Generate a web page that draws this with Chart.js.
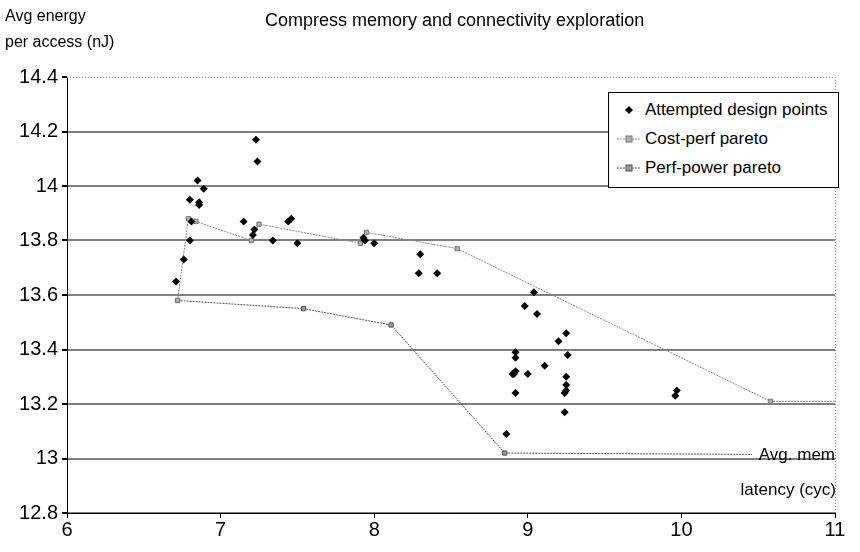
<!DOCTYPE html>
<html>
<head>
<meta charset="utf-8">
<script src="https://cdn.jsdelivr.net/npm/chart.js@4.4.1/dist/chart.umd.min.js"></script>
<style>
  body { margin: 0; background: #fff; font-family: "Liberation Sans", Arial, sans-serif; }
  #wrap { position: relative; width: 860px; height: 552px; }
  #myChart { position: absolute; left: 0; top: 0; }
  .txt { position: absolute; color: #000; white-space: nowrap; line-height: 1; }
  #legend { position: absolute; left: 608px; top: 92px; width: 229px; height: 94px;
            border: 1px solid #000; background: #fff; }
  .item { position: absolute; left: 0; height: 20px; font-size: 17px; line-height: 20px; }
  .item svg { position: absolute; left: 8px; top: 2px; }
  .item span { position: absolute; left: 36px; top: 0; white-space: nowrap; }
</style>
</head>
<body>
<div id="wrap">
  <canvas id="myChart" width="860" height="552"></canvas>
  <div class="txt" style="left:5px; top:8px; font-size:16px;">Avg energy</div>
  <div class="txt" style="left:5px; top:34px; font-size:16px;">per access (nJ)</div>
  <div class="txt" style="left:265px; top:11px; font-size:18px;">Compress memory and connectivity exploration</div>
  <div class="txt" style="right:25px; top:446px; font-size:17px;">Avg. mem</div>
  <div class="txt" style="right:24px; top:481px; font-size:17px;">latency (cyc)</div>
  <div id="legend"></div>
</div>
<script>
// puntos de diseño probados (latencia media, energia media)
const attemptedX = [7.23, 7.24, 6.85, 6.89, 6.80, 6.86, 6.86, 6.81, 7.15, 7.22, 7.21, 6.80, 7.34, 6.76, 6.71,
                    7.44, 7.46, 7.50, 7.93, 7.94, 8.00, 8.30, 8.29, 8.41, 9.04, 8.98, 9.06, 9.25, 9.20,
                    8.92, 8.92, 9.26, 9.11, 8.90, 8.92, 8.91, 9.00, 9.25, 9.25, 9.25, 9.24, 8.92, 9.24,
                    8.86, 9.96, 9.97];
const attemptedY = [14.17, 14.09, 14.02, 13.99, 13.95, 13.94, 13.93, 13.87, 13.87, 13.84, 13.82, 13.80, 13.80, 13.73, 13.65,
                    13.87, 13.88, 13.79, 13.81, 13.80, 13.79, 13.75, 13.68, 13.68, 13.61, 13.56, 13.53, 13.46, 13.43,
                    13.39, 13.37, 13.38, 13.34, 13.31, 13.32, 13.31, 13.31, 13.30, 13.27, 13.25, 13.24, 13.24, 13.17,
                    13.09, 13.23, 13.25];

const costPerfX = [6.72, 6.79, 6.84, 7.20, 7.25, 7.91, 7.95, 8.54, 10.58, 11.0];
const costPerfY = [13.58, 13.88, 13.87, 13.80, 13.86, 13.79, 13.83, 13.77, 13.21, 13.21];

const perfPowerX = [6.72, 7.54, 8.11, 8.85, 10.46];
const perfPowerY = [13.58, 13.55, 13.49, 13.02, 13.015];

const seriesNames = ['Attempted design points', 'Cost-perf pareto', 'Perf-power pareto'];
const xTickValues = [6, 7, 8, 9, 10, 11];
const yTickValues = [12.8, 13, 13.2, 13.4, 13.6, 13.8, 14, 14.2, 14.4];

function puntos(xs, ys) {
    return xs.map((x, i) => ({ x: x, y: ys[i] }));
}

// el ultimo punto de cada frontera va sin marcador
function sinUltimo(r) {
    return function(ctx) {
        return ctx.dataIndex === ctx.dataset.data.length - 1 ? 0 : r;
    };
}

const bordePunteado = {
    id: 'bordePunteado',
    beforeDatasetsDraw(chart) {
        const a = chart.chartArea;
        const c = chart.ctx;
        c.save();
        c.strokeStyle = '#888';
        c.lineWidth = 1;
        c.setLineDash([1, 2]);
        c.beginPath();
        c.moveTo(a.left, a.top + 0.5);
        c.lineTo(a.right + 0.5, a.top + 0.5);
        c.lineTo(a.right + 0.5, a.bottom);
        c.stroke();
        c.restore();
    }
};

const ctx = document.getElementById('myChart').getContext('2d');
const grafico = new Chart(ctx, {
    type: 'scatter',
    data: {
        datasets: [{
            label: seriesNames[0],
            data: puntos(attemptedX, attemptedY),
            pointStyle: 'rectRot',
            pointRadius: 4,
            backgroundColor: '#000',
            borderColor: '#000',
            borderWidth: 0,
            showLine: false
        }, {
            label: seriesNames[1],
            data: puntos(costPerfX, costPerfY),
            showLine: true,
            borderColor: '#8a8a8a',
            borderWidth: 1,
            borderDash: [2, 1],
            pointStyle: 'rect',
            pointRadius: sinUltimo(3),
            pointBackgroundColor: '#b0b0b0',
            pointBorderColor: '#777',
            pointBorderWidth: 1
        }, {
            label: seriesNames[2],
            data: puntos(perfPowerX, perfPowerY),
            showLine: true,
            borderColor: '#555',
            borderWidth: 1,
            borderDash: [2, 1],
            pointStyle: 'rect',
            pointRadius: sinUltimo(3),
            pointBackgroundColor: '#999',
            pointBorderColor: '#555',
            pointBorderWidth: 1
        }]
    },
    options: {
        responsive: false,
        animation: false,
        layout: { padding: { top: 77, right: 25, left: 0, bottom: 0 } },
        plugins: {
            legend: { display: false },
            tooltip: { enabled: false }
        },
        scales: {
            x: {
                type: 'linear',
                min: 6,
                max: 11,
                afterBuildTicks: s => { s.ticks = xTickValues.map(v => ({ value: v })); },
                afterFit: s => { s.height = 39; },
                ticks: {
                    color: '#000',
                    font: { family: 'Liberation Sans', size: 20 },
                    padding: 0,
                    callback: v => String(v)
                },
                grid: { drawOnChartArea: false, drawTicks: true, tickLength: 5, tickColor: '#000' },
                border: { color: '#000', width: 1 }
            },
            y: {
                min: 12.8,
                max: 14.4,
                afterBuildTicks: s => { s.ticks = yTickValues.map(v => ({ value: v })); },
                afterFit: s => { s.width = 67; },
                ticks: {
                    color: '#000',
                    font: { family: 'Liberation Sans', size: 20 },
                    padding: 4,
                    callback: v => String(Math.round(v * 10) / 10)
                },
                grid: {
                    color: c => (c.tick && c.tick.value >= 14.4) ? 'rgba(0,0,0,0)' : '#808080',
                    lineWidth: 2,
                    drawTicks: true,
                    tickLength: 5,
                    tickColor: '#000'
                },
                border: { color: '#000', width: 1 }
            }
        }
    },
    plugins: [bordePunteado]
});

// leyenda en html dentro del area del grafico
function cargarLeyenda() {
    const iconos = [
        '<svg width="24" height="16"><polygon points="12,4 16,8 12,12 8,8" fill="#000"/></svg>',
        '<svg width="24" height="16"><line x1="0" y1="8" x2="24" y2="8" stroke="#8a8a8a" stroke-dasharray="2,1"/><rect x="9" y="5" width="6" height="6" fill="#b0b0b0" stroke="#777"/></svg>',
        '<svg width="24" height="16"><line x1="0" y1="8" x2="24" y2="8" stroke="#555" stroke-dasharray="2,1"/><rect x="9" y="5" width="6" height="6" fill="#999" stroke="#555"/></svg>'
    ];
    const cont = document.getElementById('legend');
    grafico.data.datasets.forEach((d, i) => {
        const div = document.createElement('div');
        div.className = 'item';
        div.style.top = (7 + i * 29) + 'px';
        div.innerHTML = iconos[i] + '<span>' + d.label + '</span>';
        cont.appendChild(div);
    });
}
cargarLeyenda();
</script>
</body>
</html>
